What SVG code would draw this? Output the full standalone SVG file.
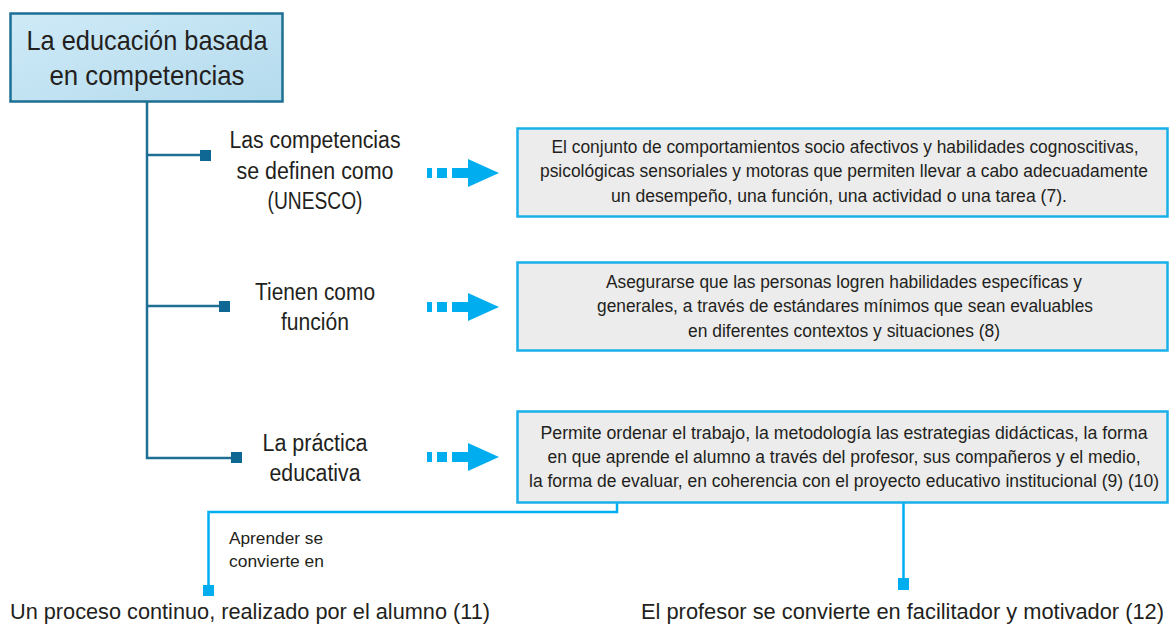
<svg xmlns="http://www.w3.org/2000/svg" width="1170" height="626" viewBox="0 0 1170 626">
<defs>
<linearGradient id="topfill" x1="0" y1="0" x2="1" y2="1">
<stop offset="0" stop-color="#cfeaf7"/>
<stop offset="1" stop-color="#b4dbed"/>
</linearGradient>
<g id="arrow">
<rect x="427" y="-5" width="5" height="10"/>
<rect x="437" y="-5" width="10" height="10"/>
<rect x="452" y="-5" width="17" height="10"/>
<polygon points="468,-14 499,0 468,14"/>
</g>
</defs>
<style>
text{font-family:"Liberation Sans",Arial,sans-serif;fill:#231f20}
.top{font-size:28px;text-anchor:middle}
.lbl{font-size:23px;text-anchor:middle}
.box{font-size:17.5px;text-anchor:middle}
.small{font-size:17px}
.bot{font-size:22px}
.trunk{fill:none;stroke:#1d6f93;stroke-width:2.5}
.sq{fill:#0e6893}
.cyan{fill:none;stroke:#00aeef;stroke-width:2.5}
.csq{fill:#00aeef}
.arr{fill:#00aeef}
.dbox{fill:#ececec;stroke:#19b0ea;stroke-width:2.5}
</style>

<g id="connectors">
<path class="trunk" d="M147,102 V458 H232 M147,155 H201 M147,306 H220"/>
<rect class="sq" x="200" y="150" width="11" height="11"/>
<rect class="sq" x="219" y="301" width="11" height="11"/>
<rect class="sq" x="231" y="452" width="11" height="11"/>
<use href="#arrow" class="arr" transform="translate(0,173)"/>
<use href="#arrow" class="arr" transform="translate(0,307)"/>
<use href="#arrow" class="arr" transform="translate(0,457)"/>
<path class="cyan" d="M617,503 V512 H208.5 V587"/>
<rect class="csq" x="203" y="585" width="11" height="11"/>
<path class="cyan" d="M903.5,503 V580"/>
<rect class="csq" x="898" y="578" width="11" height="12"/>
<text class="small" x="229" y="544" textLength="94" lengthAdjust="spacingAndGlyphs">Aprender se</text>
<text class="small" x="229" y="567" textLength="95" lengthAdjust="spacingAndGlyphs">convierte en</text>
</g>

<g id="root">
<rect x="10.5" y="13.5" width="272" height="88" fill="url(#topfill)" stroke="#1d6f93" stroke-width="2.5"/>
<text class="top" x="147" y="50" textLength="241" lengthAdjust="spacingAndGlyphs">La educación basada</text>
<text class="top" x="147" y="85" textLength="195" lengthAdjust="spacingAndGlyphs">en competencias</text>
</g>

<g id="label-competencias">
<text class="lbl" x="315" y="148" textLength="171" lengthAdjust="spacingAndGlyphs">Las competencias</text>
<text class="lbl" x="315" y="179" textLength="157" lengthAdjust="spacingAndGlyphs">se definen como</text>
<text class="lbl" x="315" y="209" textLength="95" lengthAdjust="spacingAndGlyphs">(UNESCO)</text>
</g>

<g id="label-funcion">
<text class="lbl" x="315" y="300" textLength="120" lengthAdjust="spacingAndGlyphs">Tienen como</text>
<text class="lbl" x="315" y="330" textLength="68" lengthAdjust="spacingAndGlyphs">función</text>
</g>

<g id="label-practica">
<text class="lbl" x="315" y="451" textLength="105" lengthAdjust="spacingAndGlyphs">La práctica</text>
<text class="lbl" x="315" y="481" textLength="91" lengthAdjust="spacingAndGlyphs">educativa</text>
</g>

<g id="box-definicion">
<rect class="dbox" x="517.5" y="128.5" width="650" height="88"/>
<text class="box" x="845" y="153" textLength="587" lengthAdjust="spacingAndGlyphs">El conjunto de comportamientos socio afectivos y habilidades cognoscitivas,</text>
<text class="box" x="844" y="177" textLength="608" lengthAdjust="spacingAndGlyphs">psicológicas sensoriales y motoras que permiten llevar a cabo adecuadamente</text>
<text class="box" x="839" y="202" textLength="456" lengthAdjust="spacingAndGlyphs">un desempeño, una función, una actividad o una tarea (7).</text>
</g>

<g id="box-funcion">
<rect class="dbox" x="517.5" y="262.5" width="650" height="88"/>
<text class="box" x="844" y="288" textLength="476" lengthAdjust="spacingAndGlyphs">Asegurarse que las personas logren habilidades específicas y</text>
<text class="box" x="845" y="312" textLength="496" lengthAdjust="spacingAndGlyphs">generales, a través de estándares mínimos que sean evaluables</text>
<text class="box" x="844" y="337" textLength="312" lengthAdjust="spacingAndGlyphs">en diferentes contextos y situaciones (8)</text>
</g>

<g id="box-practica">
<rect class="dbox" x="517.5" y="411.5" width="650" height="91"/>
<text class="box" x="844" y="439" textLength="607" lengthAdjust="spacingAndGlyphs">Permite ordenar el trabajo, la metodología las estrategias didácticas, la forma</text>
<text class="box" x="844" y="463" textLength="593" lengthAdjust="spacingAndGlyphs">en que aprende el alumno a través del profesor, sus compañeros y el medio,</text>
<text class="box" x="844" y="487" textLength="630" lengthAdjust="spacingAndGlyphs">la forma de evaluar, en coherencia con el proyecto educativo institucional (9) (10)</text>
</g>

<g id="result-alumno">
<text class="bot" x="10" y="619" textLength="480" lengthAdjust="spacingAndGlyphs">Un proceso continuo, realizado por el alumno (11)</text>
</g>

<g id="result-profesor">
<text class="bot" x="1164" y="619" text-anchor="end" textLength="523" lengthAdjust="spacingAndGlyphs">El profesor se convierte en facilitador y motivador (12)</text>
</g>
</svg>
